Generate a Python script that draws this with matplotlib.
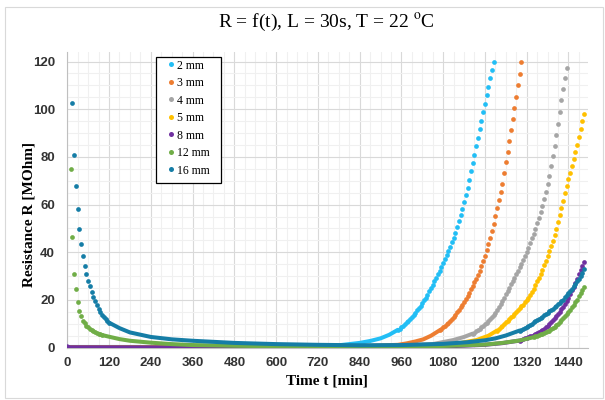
import numpy as np
import matplotlib
matplotlib.use("Agg")
import matplotlib.pyplot as plt
from matplotlib.lines import Line2D
from matplotlib.patches import Rectangle

plt.rcParams['mathtext.fontset'] = 'stix'

labels = ["2 mm", "3 mm", "4 mm", "5 mm", "8 mm", "12 mm", "16 mm"]
colors = ["#22BEF5", "#ED7D31", "#A5A5A5", "#FFC000", "#7030A0", "#70AD47", "#157DA6"]

# dense (overlapping) parts of each series: time [min], R [MOhm]
flat_2_t = [0, 300, 600, 780, 840, 870, 900, 925, 950]
flat_2_r = [0.3, 0.3, 0.5, 1.0, 2.0, 2.8, 3.9, 5.4, 7.5]
flat_3_t = [0, 800, 950, 975, 1000, 1023, 1045, 1070]
flat_3_r = [0.2, 0.4, 1.2, 1.8, 2.6, 3.5, 5.0, 7.3]
flat_4_t = [0, 900, 1050, 1109, 1140, 1165]
flat_4_r = [0.1, 0.5, 1.5, 3.2, 4.5, 5.9]
flat_5_t = [0, 900, 1100, 1176, 1210, 1235]
flat_5_r = [0.2, 0.3, 1.2, 3.2, 5.0, 7.2]
flat_8_t = [0, 5, 600, 1000, 1100, 1200, 1250, 1300]
flat_8_r = [0.6, 0.2, 0.1, 0.3, 0.6, 1.2, 1.9, 3.0]
flat_12_t = [100, 120, 150, 180, 240, 300, 360, 480, 600, 720, 840, 960, 1080, 1200, 1250, 1300, 1340]
flat_12_r = [5.3, 4.6, 3.6, 2.9, 2.1, 1.5, 1.1, 0.8, 0.6, 0.5, 0.4, 0.5, 0.7, 1.3, 2.0, 3.0, 4.4]
flat_16_t = [120, 150, 180, 240, 300, 360, 480, 600, 720, 840, 960, 1080, 1150, 1200, 1230, 1260, 1300]
flat_16_r = [10.5, 8.2, 6.4, 4.5, 3.5, 2.9, 2.0, 1.5, 1.2, 1.0, 1.1, 1.6, 2.3, 3.1, 3.9, 5.1, 7.2]

# separated points, sampled every 5 min
dots_2_t = np.arange(950, 1226, 5)
dots_2_r = [7.5, 8.0, 8.6, 9.2, 9.9, 10.6, 11.3, 12.1, 12.9, 13.8,
            14.7, 15.6, 16.6, 17.6, 18.7, 19.8, 21.0, 22.3, 23.6, 25.0,
            26.4, 27.8, 29.3, 30.8, 32.3, 33.9, 35.5, 37.1, 38.8, 40.5,
            42.3, 44.2, 46.2, 48.3, 50.6, 53.0, 55.6, 58.3, 61.1, 64.0,
            67.0, 70.5, 74.0, 77.5, 81.0, 84.5, 88.0, 91.6, 95.2, 98.8,
            102.4, 106.0, 109.5, 113.0, 116.4, 119.8]
dots_3_t = np.arange(1070, 1306, 5)
dots_3_r = [7.3, 7.9, 8.5, 9.1, 9.8, 10.4, 11.0, 11.9, 12.8, 13.8,
            14.9, 16.0, 17.0, 18.0, 19.1, 20.3, 21.6, 23.0, 24.4, 25.9,
            27.4, 28.9, 30.6, 32.3, 34.1, 36.3, 38.6, 41.0, 43.4, 45.9,
            49.0, 52.0, 55.3, 58.6, 62.0, 65.4, 68.8, 73.2, 77.7, 82.2,
            86.8, 91.4, 96.0, 100.6, 105.3, 110.0, 114.8, 119.6]
dots_4_t = np.arange(1165, 1436, 5)
dots_4_r = [5.9, 6.3, 6.8, 7.3, 7.9, 8.5, 9.1, 9.8, 10.5, 11.3,
            12.1, 12.9, 13.7, 14.7, 15.8, 17.0, 18.3, 19.7, 21.0, 22.4,
            23.8, 25.1, 26.5, 27.9, 29.3, 30.8, 32.3, 33.8, 35.3, 36.8,
            38.5, 40.2, 42.0, 43.9, 45.8, 47.8, 49.9, 52.1, 54.4, 56.8,
            59.4, 62.2, 65.2, 68.5, 72.2, 76.2, 80.4, 84.7, 89.2, 94.0,
            99.0, 103.9, 108.6, 113.1, 117.3]
dots_5_t = np.arange(1235, 1486, 5)
dots_5_r = [7.2, 7.8, 8.5, 9.2, 9.9, 10.6, 11.3, 12.0, 12.7, 13.4,
            14.1, 14.9, 15.7, 16.5, 17.3, 18.1, 19.0, 19.9, 21.0, 22.2,
            23.5, 24.8, 26.3, 27.8, 29.4, 31.0, 32.7, 34.5, 36.4, 38.4,
            40.4, 42.5, 44.7, 47.2, 49.9, 52.8, 55.6, 58.4, 61.5, 64.7,
            67.8, 70.6, 73.4, 76.2, 79.2, 82.0, 85.0, 88.2, 91.6, 95.0,
            97.8]
dots_8_t = np.arange(1300, 1486, 5)
dots_8_r = [3.0, 3.3, 3.6, 3.9, 4.2, 4.5, 4.8, 5.1, 5.4, 5.8,
            6.2, 6.6, 7.0, 7.5, 8.0, 8.6, 9.3, 10.0, 10.8, 11.6,
            12.4, 13.3, 14.2, 15.1, 16.1, 17.2, 18.4, 19.7, 21.0, 22.5,
            24.0, 25.6, 27.3, 29.0, 30.8, 32.6, 34.4, 36.0]
dots_12_t = np.concatenate([np.arange(10, 101, 5), np.arange(1340, 1486, 5)])
dots_12_r = [75.0, 46.5, 31.0, 24.5, 19.0, 15.2, 13.2, 11.2, 10.2, 9.3,
             8.6, 8.0, 7.5, 7.0, 6.6, 6.2, 5.9, 5.6, 5.3,
             4.4, 4.7, 5.0, 5.3, 5.6, 5.9, 6.3, 6.6, 6.9, 7.2,
             7.7, 8.2, 8.8, 9.4, 10.1, 10.8, 11.6, 12.4, 13.3, 14.1,
             15.0, 16.0, 17.0, 18.0, 19.0, 20.2, 21.5, 22.8, 24.1, 25.4]
dots_16_t = np.concatenate([np.arange(15, 121, 5), np.arange(1300, 1486, 5)])
dots_16_r = [102.6, 80.7, 68.0, 58.2, 49.6, 43.6, 38.4, 34.2, 30.9, 28.1,
             25.8, 23.5, 21.4, 19.5, 17.8, 16.3, 15.0, 13.9, 12.9, 12.0,
             11.2, 10.5,
             7.2, 7.6, 8.0, 8.4, 8.8, 9.2, 9.7, 10.1, 10.6, 11.0,
             11.5, 12.0, 12.5, 13.0, 13.5, 14.0, 14.6, 15.2, 15.8, 16.4,
             17.0, 17.6, 18.2, 18.8, 19.5, 20.2, 21.1, 22.0, 22.9, 23.8,
             24.8, 25.8, 26.8, 27.9, 29.0, 30.2, 31.5, 32.8]

flats = [(flat_2_t, flat_2_r), (flat_3_t, flat_3_r), (flat_4_t, flat_4_r),
         (flat_5_t, flat_5_r), (flat_8_t, flat_8_r), (flat_12_t, flat_12_r),
         (flat_16_t, flat_16_r)]
dots = [(dots_2_t, dots_2_r), (dots_3_t, dots_3_r), (dots_4_t, dots_4_r),
        (dots_5_t, dots_5_r), (dots_8_t, dots_8_r), (dots_12_t, dots_12_r),
        (dots_16_t, dots_16_r)]

W, H = 605, 400
fig = plt.figure(figsize=(W / 100, H / 100), dpi=100)
ax = fig.add_axes([0.1112, 0.1308, 0.8600, 0.7392])

for i, c in enumerate(colors):
    ax.plot(flats[i][0], flats[i][1], '-', color=c, lw=2.9,
            solid_capstyle='round', zorder=3 + i)
    ax.plot(dots[i][0], dots[i][1], 'o', color=c, ms=3.4, mew=0, zorder=3 + i)

ax.set_xlim(0, 1495)
ax.set_ylim(0, 124)
ax.set_xticks(np.arange(0, 1441, 120))
ax.set_xticks(np.arange(0, 1495, 30), minor=True)
ax.set_yticks(np.arange(0, 121, 20))
ax.set_yticks(np.arange(0, 124, 5), minor=True)
ax.grid(which='major', color='#D9D9D9', lw=0.8)
ax.grid(which='minor', color='#F0F0F0', lw=0.8)
ax.set_axisbelow(True)
for s in ['top', 'right']:
    ax.spines[s].set_visible(False)
for s in ['left', 'bottom']:
    ax.spines[s].set_color('#BFBFBF')
    ax.spines[s].set_linewidth(0.8)
ax.tick_params(which='both', length=0)
ax.tick_params(axis='y', pad=9)
ax.tick_params(axis='x', pad=7)
for lab in ax.get_xticklabels() + ax.get_yticklabels():
    lab.set_fontfamily('Liberation Sans')
    lab.set_fontweight('bold')
    lab.set_fontsize(9.5)
    lab.set_color('#333333')

ax.set_xlabel('Time t [min]', family='Liberation Serif', weight='bold',
              fontsize=11, labelpad=4)
ax.set_ylabel('Resistance R [MOhm]', family='Liberation Serif', weight='bold',
              fontsize=11)
ax.yaxis.set_label_coords(-0.062, 0.449)

fig.text(0.54, 0.945, r'R = f(t), L = 30s, T = 22 $^{\rm o}$C',
         family='Liberation Serif', fontsize=14, ha='center', va='center')

# legend box, then the entries inside it
fig.add_artist(Rectangle((155.5 / W, 1 - 182.5 / H), 65 / W, 126 / H,
                         transform=fig.transFigure, facecolor='white',
                         edgecolor='black', lw=0.9, zorder=10))
handles = [Line2D([], [], ls='none', marker='o', ms=3.6, mew=0, color=c)
           for c in colors]
leg = fig.legend(handles, labels, loc='upper left',
                 bbox_to_anchor=(167 / W, 1 - 59.6 / H),
                 bbox_transform=fig.transFigure, borderaxespad=0,
                 prop={'family': 'Liberation Serif', 'size': 8.5},
                 frameon=False, handlelength=0.65, handletextpad=0.2,
                 labelspacing=0.466, borderpad=0)
leg.set_zorder(20)

fig.add_artist(Rectangle((4.5 / W, 2 / H), 598 / W, 391 / H,
                         transform=fig.transFigure, fill=False,
                         edgecolor='#D9D9D9', lw=0.8))

fig.savefig('out.png', dpi=100)
